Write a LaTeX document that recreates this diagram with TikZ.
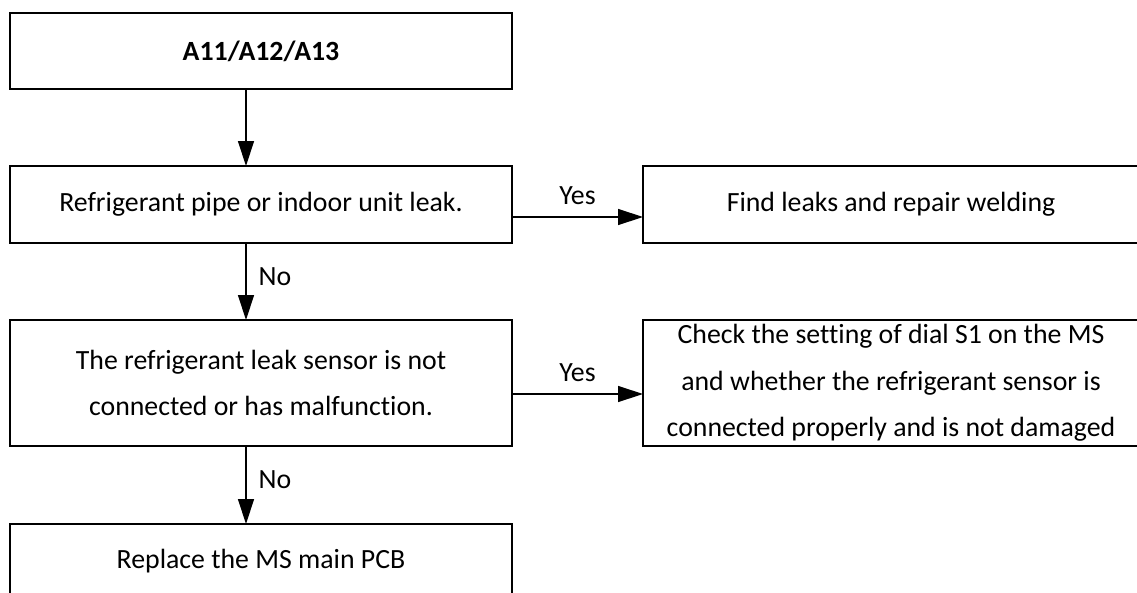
\documentclass[tikz,border=0pt]{standalone}
\usepackage{fontspec}
\setmainfont{Carlito}[Ligatures=NoCommon]
\usetikzlibrary{arrows.meta}
\newcommand\flowfont{\fontsize{27.8}{46.5}\selectfont}
\tikzset{
  chk/.style={draw,line width=2pt,minimum width=502pt,inner sep=0pt,outer sep=0pt,align=center,font=\flowfont},
  act/.style={chk,minimum width=496pt},
  flow/.style={line width=1.3pt,-{Triangle[length=25pt,width=16pt]}},
  ans/.style={font=\flowfont,inner sep=2pt}
}
\begin{document}
\begin{tikzpicture}[x=1pt,y=-1pt]
  \useasboundingbox (0,0) rectangle (1137,592);
  % left column
  \node[chk,minimum height=76pt] (alarm) at (261,51) {\textbf{A11/A12/A13}};
  \node[chk,minimum height=77pt] (leak) at (261,204.5) {Refrigerant pipe or indoor unit leak.};
  \node[chk,minimum height=126pt] (sensor) at (261,383) {The refrigerant leak sensor is not\\connected or has malfunction.};
  \node[chk,minimum height=74pt] (pcb) at (261,561) {Replace the MS main PCB};
  % right column
  \node[act,minimum height=77pt] (weld) at (891,204.5) {Find leaks and repair welding};
  \node[act,minimum height=126pt] (dial) at (891,383) {Check the setting of dial S1 on the MS\\and whether the refrigerant sensor is\\connected properly and is not damaged};
  % connectors
  \draw[flow] ([xshift=-15pt]alarm.south) -- ([xshift=-15pt]leak.north);
  \draw[flow] ([xshift=-15pt]leak.south) -- node[ans,anchor=west,xshift=10pt,yshift=5pt] {No} ([xshift=-15pt]sensor.north);
  \draw[flow] ([xshift=-15pt]sensor.south) -- node[ans,anchor=west,xshift=10pt,yshift=5pt] {No} ([xshift=-15pt]pcb.north);
  \draw[flow] ([yshift=-12.5pt]leak.east) -- node[ans,above=10pt] {Yes} ([yshift=-12.5pt]weld.west);
  \draw[flow] ([yshift=-11pt]sensor.east) -- node[ans,above=10pt] {Yes} ([yshift=-11pt]dial.west);
\end{tikzpicture}
\end{document}
